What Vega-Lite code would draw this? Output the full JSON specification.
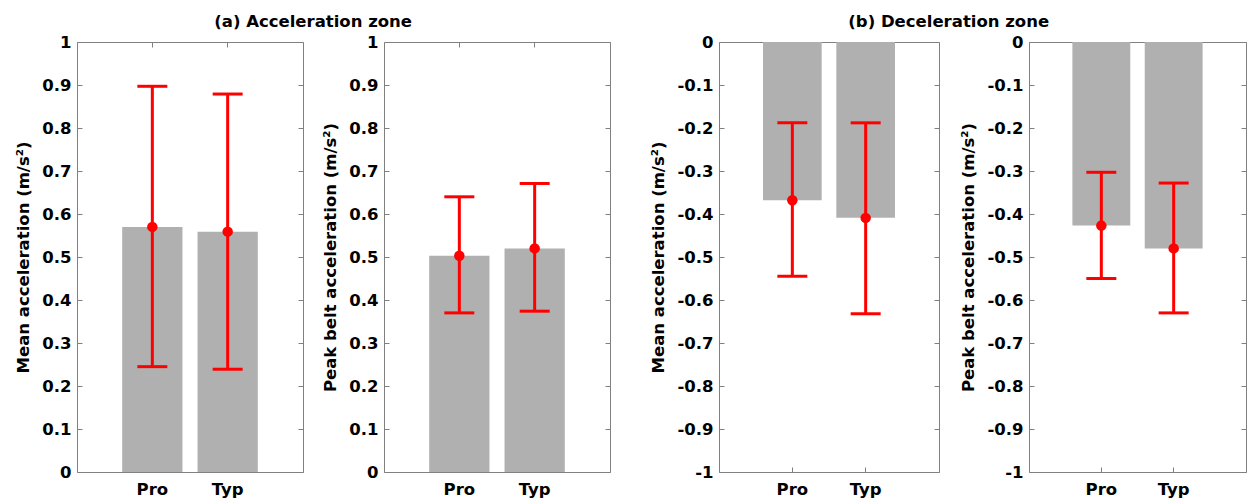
{
  "$schema": "https://vega.github.io/schema/vega-lite/v6.json",
  "autosize": {"type": "pad"},
  "padding": {"left": 15, "top": 13, "right": 0, "bottom": 0},
  "background": "white",
  "config": {
    "view": {"stroke": null},
    "locale": {"number": {"decimal": ".", "thousands": ",", "grouping": [3], "currency": ["$", ""], "minus": "-"}},
    "axis": {
      "domainColor": "#808080",
      "tickColor": "#808080",
      "tickSize": -5,
      "grid": false,
      "labelFont": "DejaVu Sans",
      "labelFontSize": 16.5,
      "labelFontWeight": "bold",
      "labelColor": "#000000",
      "titleFont": "DejaVu Sans",
      "titleFontSize": 16.5,
      "titleFontWeight": "bold",
      "titleColor": "#000000",
      "labelPadding": 11,
      "titlePadding": 10
    },
    "axisX": {"labelPadding": 14},
    "title": {"font": "DejaVu Sans", "fontSize": 16.5, "fontWeight": "bold", "color": "#000000", "anchor": "middle", "offset": 4}
  },
  "datasets": {
    "d": [
      {"panel": "a1", "group": "Pro", "mean": 0.570, "lo": 0.245, "hi": 0.897},
      {"panel": "a1", "group": "Typ", "mean": 0.559, "lo": 0.239, "hi": 0.879},
      {"panel": "a2", "group": "Pro", "mean": 0.503, "lo": 0.370, "hi": 0.640},
      {"panel": "a2", "group": "Typ", "mean": 0.520, "lo": 0.374, "hi": 0.671},
      {"panel": "b1", "group": "Pro", "mean": -0.368, "lo": -0.545, "hi": -0.188},
      {"panel": "b1", "group": "Typ", "mean": -0.409, "lo": -0.632, "hi": -0.188},
      {"panel": "b2", "group": "Pro", "mean": -0.427, "lo": -0.550, "hi": -0.303},
      {"panel": "b2", "group": "Typ", "mean": -0.480, "lo": -0.630, "hi": -0.328}
    ]
  },
  "spacing": 39,
  "hconcat": [
    {
      "title": {"text": "(a) Acceleration zone"},
      "spacing": 18,
      "hconcat": [
        {
          "width": 226, "height": 430,
          "data": {"name": "d"},
          "transform": [{"filter": "datum.panel == 'a1'"}],
          "encoding": {"x": {"field": "group", "type": "nominal", "sort": ["Pro", "Typ"], "scale": {"paddingInner": 0.2, "paddingOuter": 0.6}, "axis": null}},
          "layer": [
            {"mark": {"type": "bar", "color": "#b0b0b0"},
             "encoding": {
               "x": {"field": "group", "type": "nominal", "sort": ["Pro", "Typ"], "scale": {"paddingInner": 0.2, "paddingOuter": 0.6}, "axis": {"orient": "bottom", "title": null, "labelAngle": 0}},
               "y": {"field": "mean", "type": "quantitative", "scale": {"domain": [0, 1], "nice": false, "zero": false}, "axis": {"orient": "left", "format": "~g", "title": "Mean acceleration (m/s²)", "values": [0, 0.1, 0.2, 0.3, 0.4, 0.5, 0.6, 0.7, 0.8, 0.9, 1]}}}},
            {"mark": {"type": "rule", "color": "#ff0000", "strokeWidth": 3}, "encoding": {"y": {"field": "lo", "type": "quantitative", "axis": null}, "y2": {"field": "hi"}}},
            {"mark": {"type": "tick", "color": "#ff0000", "size": 30, "thickness": 3, "opacity": 1}, "encoding": {"y": {"field": "lo", "type": "quantitative", "axis": null}}},
            {"mark": {"type": "tick", "color": "#ff0000", "size": 30, "thickness": 3, "opacity": 1}, "encoding": {"y": {"field": "hi", "type": "quantitative", "axis": null}}},
            {"mark": {"type": "point", "filled": true, "color": "#ff0000", "size": 110, "opacity": 1}, "encoding": {"y": {"field": "mean", "type": "quantitative", "axis": null}}},
            {"mark": {"type": "point", "opacity": 0},
             "encoding": {
               "x": {"field": "group", "type": "nominal", "sort": ["Pro", "Typ"], "axis": {"orient": "top", "title": null, "labels": false}},
               "y": {"field": "mean", "type": "quantitative", "axis": {"orient": "right", "title": null, "labels": false, "values": [0, 0.1, 0.2, 0.3, 0.4, 0.5, 0.6, 0.7, 0.8, 0.9, 1]}}}}
          ]
        },
        {
          "width": 226, "height": 430,
          "data": {"name": "d"},
          "transform": [{"filter": "datum.panel == 'a2'"}],
          "encoding": {"x": {"field": "group", "type": "nominal", "sort": ["Pro", "Typ"], "scale": {"paddingInner": 0.2, "paddingOuter": 0.6}, "axis": null}},
          "layer": [
            {"mark": {"type": "bar", "color": "#b0b0b0"},
             "encoding": {
               "x": {"field": "group", "type": "nominal", "sort": ["Pro", "Typ"], "scale": {"paddingInner": 0.2, "paddingOuter": 0.6}, "axis": {"orient": "bottom", "title": null, "labelAngle": 0}},
               "y": {"field": "mean", "type": "quantitative", "scale": {"domain": [0, 1], "nice": false, "zero": false}, "axis": {"orient": "left", "format": "~g", "title": "Peak belt acceleration (m/s²)", "values": [0, 0.1, 0.2, 0.3, 0.4, 0.5, 0.6, 0.7, 0.8, 0.9, 1]}}}},
            {"mark": {"type": "rule", "color": "#ff0000", "strokeWidth": 3}, "encoding": {"y": {"field": "lo", "type": "quantitative", "axis": null}, "y2": {"field": "hi"}}},
            {"mark": {"type": "tick", "color": "#ff0000", "size": 30, "thickness": 3, "opacity": 1}, "encoding": {"y": {"field": "lo", "type": "quantitative", "axis": null}}},
            {"mark": {"type": "tick", "color": "#ff0000", "size": 30, "thickness": 3, "opacity": 1}, "encoding": {"y": {"field": "hi", "type": "quantitative", "axis": null}}},
            {"mark": {"type": "point", "filled": true, "color": "#ff0000", "size": 110, "opacity": 1}, "encoding": {"y": {"field": "mean", "type": "quantitative", "axis": null}}},
            {"mark": {"type": "point", "opacity": 0},
             "encoding": {
               "x": {"field": "group", "type": "nominal", "sort": ["Pro", "Typ"], "axis": {"orient": "top", "title": null, "labels": false}},
               "y": {"field": "mean", "type": "quantitative", "axis": {"orient": "right", "title": null, "labels": false, "values": [0, 0.1, 0.2, 0.3, 0.4, 0.5, 0.6, 0.7, 0.8, 0.9, 1]}}}}
          ]
        }
      ]
    },
    {
      "title": {"text": "(b) Deceleration zone"},
      "spacing": 20,
      "hconcat": [
        {
          "width": 220, "height": 430,
          "data": {"name": "d"},
          "transform": [{"filter": "datum.panel == 'b1'"}],
          "encoding": {"x": {"field": "group", "type": "nominal", "sort": ["Pro", "Typ"], "scale": {"paddingInner": 0.2, "paddingOuter": 0.6}, "axis": null}},
          "layer": [
            {"mark": {"type": "bar", "color": "#b0b0b0"},
             "encoding": {
               "x": {"field": "group", "type": "nominal", "sort": ["Pro", "Typ"], "scale": {"paddingInner": 0.2, "paddingOuter": 0.6}, "axis": {"orient": "bottom", "title": null, "labelAngle": 0}},
               "y": {"field": "mean", "type": "quantitative", "scale": {"domain": [-1, 0], "nice": false, "zero": false}, "axis": {"orient": "left", "format": "~g", "title": "Mean acceleration (m/s²)", "values": [0, -0.1, -0.2, -0.3, -0.4, -0.5, -0.6, -0.7, -0.8, -0.9, -1]}}}},
            {"mark": {"type": "rule", "color": "#ff0000", "strokeWidth": 3}, "encoding": {"y": {"field": "lo", "type": "quantitative", "axis": null}, "y2": {"field": "hi"}}},
            {"mark": {"type": "tick", "color": "#ff0000", "size": 30, "thickness": 3, "opacity": 1}, "encoding": {"y": {"field": "lo", "type": "quantitative", "axis": null}}},
            {"mark": {"type": "tick", "color": "#ff0000", "size": 30, "thickness": 3, "opacity": 1}, "encoding": {"y": {"field": "hi", "type": "quantitative", "axis": null}}},
            {"mark": {"type": "point", "filled": true, "color": "#ff0000", "size": 110, "opacity": 1}, "encoding": {"y": {"field": "mean", "type": "quantitative", "axis": null}}},
            {"mark": {"type": "point", "opacity": 0},
             "encoding": {
               "x": {"field": "group", "type": "nominal", "sort": ["Pro", "Typ"], "axis": {"orient": "top", "title": null, "labels": false}},
               "y": {"field": "mean", "type": "quantitative", "axis": {"orient": "right", "title": null, "labels": false, "values": [0, -0.1, -0.2, -0.3, -0.4, -0.5, -0.6, -0.7, -0.8, -0.9, -1]}}}}
          ]
        },
        {
          "width": 217, "height": 430,
          "data": {"name": "d"},
          "transform": [{"filter": "datum.panel == 'b2'"}],
          "encoding": {"x": {"field": "group", "type": "nominal", "sort": ["Pro", "Typ"], "scale": {"paddingInner": 0.2, "paddingOuter": 0.6}, "axis": null}},
          "layer": [
            {"mark": {"type": "bar", "color": "#b0b0b0"},
             "encoding": {
               "x": {"field": "group", "type": "nominal", "sort": ["Pro", "Typ"], "scale": {"paddingInner": 0.2, "paddingOuter": 0.6}, "axis": {"orient": "bottom", "title": null, "labelAngle": 0}},
               "y": {"field": "mean", "type": "quantitative", "scale": {"domain": [-1, 0], "nice": false, "zero": false}, "axis": {"orient": "left", "format": "~g", "title": "Peak belt acceleration (m/s²)", "values": [0, -0.1, -0.2, -0.3, -0.4, -0.5, -0.6, -0.7, -0.8, -0.9, -1]}}}},
            {"mark": {"type": "rule", "color": "#ff0000", "strokeWidth": 3}, "encoding": {"y": {"field": "lo", "type": "quantitative", "axis": null}, "y2": {"field": "hi"}}},
            {"mark": {"type": "tick", "color": "#ff0000", "size": 30, "thickness": 3, "opacity": 1}, "encoding": {"y": {"field": "lo", "type": "quantitative", "axis": null}}},
            {"mark": {"type": "tick", "color": "#ff0000", "size": 30, "thickness": 3, "opacity": 1}, "encoding": {"y": {"field": "hi", "type": "quantitative", "axis": null}}},
            {"mark": {"type": "point", "filled": true, "color": "#ff0000", "size": 110, "opacity": 1}, "encoding": {"y": {"field": "mean", "type": "quantitative", "axis": null}}},
            {"mark": {"type": "point", "opacity": 0},
             "encoding": {
               "x": {"field": "group", "type": "nominal", "sort": ["Pro", "Typ"], "axis": {"orient": "top", "title": null, "labels": false}},
               "y": {"field": "mean", "type": "quantitative", "axis": {"orient": "right", "title": null, "labels": false, "values": [0, -0.1, -0.2, -0.3, -0.4, -0.5, -0.6, -0.7, -0.8, -0.9, -1]}}}}
          ]
        }
      ]
    }
  ]
}
